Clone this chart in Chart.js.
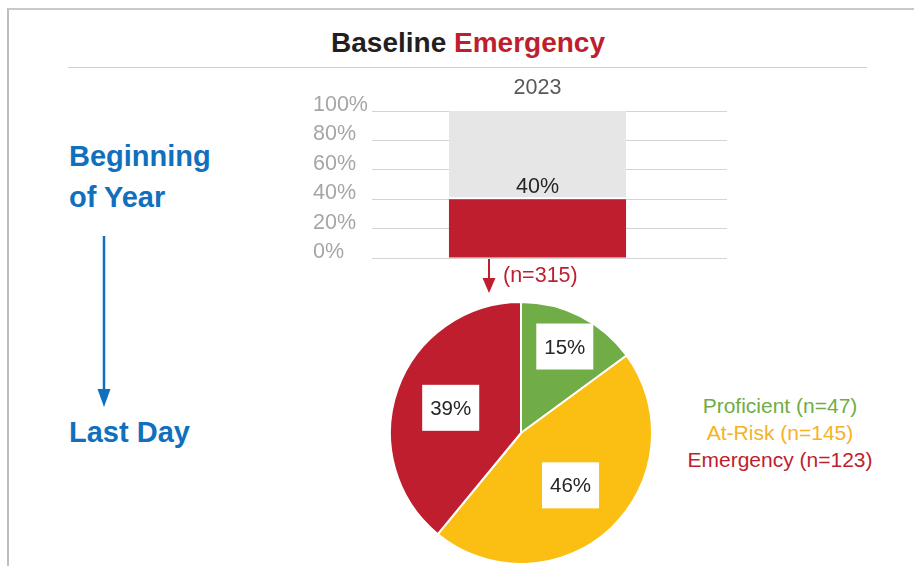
<!DOCTYPE html>
<html lang="en">
<head>
<meta charset="utf-8">
<title>Baseline Emergency</title>
<script src="https://cdn.jsdelivr.net/npm/chart.js@4.4.1/dist/chart.umd.min.js"></script>
<style>
    html, body { margin: 0; padding: 0; background: #fff; }
    body { position: relative; width: 914px; height: 566px; overflow: hidden;
           font-family: "Liberation Sans", Arial, sans-serif; }
    .abs { position: absolute; white-space: nowrap; }
    #frame { left: 7px; top: 8px; width: 940px; height: 600px;
             border-left: 2px solid #bdbdbd; border-top: 2px solid #c9c9c9; }
    #title { left: 0; top: 29px; width: 936px; text-align: center;
             font-size: 28px; line-height: 28px; font-weight: bold; color: #231f20; }
    #title span { color: #be1e2d; }
    #rule { left: 68px; top: 67px; width: 799px; height: 0; border-top: 1px solid #cfcfcf; }
    .side { left: 69px; font-size: 29px; line-height: 29px; font-weight: bold; color: #1170be; }
    #barBox { left: 313px; top: 75px; width: 414px; height: 190px; }
    #pieBox { left: 389px; top: 301px; width: 264px; height: 264px; }
    #nTotal { left: 503px; top: 265px; font-size: 21.5px; line-height: 21px; color: #be1e2d; }
    #legend { left: 680px; top: 392px; width: 200px; text-align: center;
              font-size: 21px; line-height: 27px; }
    svg.abs { left: 0; top: 0; }
</style>
</head>
<body>
<div id="frame" class="abs"></div>
<div id="title" class="abs">Baseline <span>Emergency</span></div>
<div id="rule" class="abs"></div>

<div class="abs side" style="top:142px">Beginning</div>
<div class="abs side" style="top:183px">of Year</div>
<div class="abs side" style="top:418px">Last Day</div>

<svg class="abs" width="914" height="566">
    <line x1="104" y1="236" x2="104" y2="392" stroke="#1170be" stroke-width="2.5"/>
    <polygon points="97.5,389 110.5,389 104,407" fill="#1170be"/>
    <line x1="489" y1="258" x2="489" y2="280" stroke="#be1e2d" stroke-width="2"/>
    <polygon points="482.5,278 495.5,278 489,293" fill="#be1e2d"/>
</svg>

<div id="barBox" class="abs"><canvas id="baselineBar"></canvas></div>
<div id="nTotal" class="abs"></div>
<div id="pieBox" class="abs"><canvas id="lastDayPie"></canvas></div>
<div id="legend" class="abs"></div>

<script>
// data
const barYears = ['2023'];
const emergencyShare = [40];          // % Emergency at beginning of year
const totalStudents = 315;
const yTickValues = [0, 20, 40, 60, 80, 100];

const pieCategories = ['Proficient', 'At-Risk', 'Emergency'];
const pieCounts = [47, 145, 123];

// styles
const pieColors = ['#70ad47', '#fbbf13', '#be1e2d'];
const legendColors = ['#6fad46', '#f5b324', '#be1e2d'];
const labelRadius = [0.74, 0.55, 0.57];

Chart.defaults.font.family = '"Liberation Sans", Arial, sans-serif';
Chart.defaults.animation = false;
Chart.defaults.events = [];

const noPadding = scale => {
    scale.paddingTop = 0;
    scale.paddingBottom = 0;
    scale.paddingLeft = 0;
    scale.paddingRight = 0;
};

// "40%" above the red bar
const barValueLabels = {
    id: 'barValueLabels',
    afterDatasetsDraw(chart) {
        const ctx = chart.ctx;
        const meta = chart.getDatasetMeta(0);
        ctx.save();
        ctx.font = '21.5px "Liberation Sans", Arial, sans-serif';
        ctx.fillStyle = '#262626';
        ctx.textAlign = 'center';
        ctx.textBaseline = 'alphabetic';
        meta.data.forEach((bar, i) => {
            ctx.fillText(emergencyShare[i] + '%', bar.x, bar.y - 6);
        });
        ctx.restore();
    }
};

// percent labels in white boxes on the pie
const pieBoxLabels = {
    id: 'pieBoxLabels',
    afterDatasetsDraw(chart) {
        const ctx = chart.ctx;
        const meta = chart.getDatasetMeta(0);
        const total = pieCounts.reduce((a, b) => a + b, 0);
        ctx.save();
        ctx.font = '20.5px "Liberation Sans", Arial, sans-serif';
        ctx.textAlign = 'center';
        ctx.textBaseline = 'alphabetic';
        meta.data.forEach((arc, i) => {
            const mid = (arc.startAngle + arc.endAngle) / 2;
            const r = arc.outerRadius * labelRadius[i];
            const x = arc.x + Math.cos(mid) * r;
            const y = arc.y + Math.sin(mid) * r;
            const text = Math.round(pieCounts[i] / total * 100) + '%';
            const w = ctx.measureText(text).width + 16;
            const h = 46;
            ctx.fillStyle = '#ffffff';
            ctx.fillRect(x - w / 2, y - h / 2, w, h);
            ctx.fillStyle = '#262626';
            ctx.fillText(text, x, y + 7);
        });
        ctx.restore();
    }
};

function renderBaselineBar() {
    const ctx = document.getElementById('baselineBar').getContext('2d');
    new Chart(ctx, {
        type: 'bar',
        data: {
            labels: barYears,
            datasets: [{
                data: emergencyShare,
                backgroundColor: '#be1e2d',
                borderWidth: 0
            }, {
                data: emergencyShare.map(v => 100 - v),
                backgroundColor: '#e6e6e6',
                borderColor: '#ffffff',
                borderWidth: { top: 0, left: 0, right: 0, bottom: 2 },
                borderSkipped: false
            }]
        },
        options: {
            responsive: true,
            maintainAspectRatio: false,
            layout: { padding: { top: 0, left: 0, right: 0, bottom: 7 } },
            datasets: { bar: { barPercentage: 0.535, categoryPercentage: 1 } },
            plugins: { legend: { display: false }, tooltip: { enabled: false } },
            scales: {
                x: {
                    position: 'top',
                    stacked: true,
                    grid: { display: false, drawTicks: false },
                    border: { display: false },
                    ticks: { color: '#595959', font: { size: 21.5 }, padding: 10 },
                    afterFit: scale => { scale.height = 36; noPadding(scale); }
                },
                y: {
                    stacked: true,
                    min: 0,
                    max: 100,
                    afterBuildTicks: scale => { scale.ticks = yTickValues.map(v => ({ value: v })); },
                    grid: { color: '#d4d4d4', drawTicks: false },
                    border: { display: false },
                    ticks: {
                        color: '#a6a6a6',
                        font: { size: 21.5 },
                        crossAlign: 'far',
                        labelOffset: -6,
                        callback: v => v + '%'
                    },
                    afterFit: scale => { scale.width = 59; noPadding(scale); }
                },
                y2: {
                    position: 'right',
                    min: 0,
                    max: 100,
                    afterBuildTicks: scale => { scale.ticks = yTickValues.map(v => ({ value: v })); },
                    grid: { drawOnChartArea: false, drawTicks: true, tickLength: 24, color: '#d4d4d4' },
                    border: { display: false },
                    ticks: { display: false },
                    afterFit: scale => { scale.width = 24; noPadding(scale); }
                }
            }
        },
        plugins: [barValueLabels]
    });
}

function renderLastDayPie() {
    const ctx = document.getElementById('lastDayPie').getContext('2d');
    new Chart(ctx, {
        type: 'pie',
        data: {
            labels: pieCategories,
            datasets: [{
                data: pieCounts,
                backgroundColor: pieColors,
                borderColor: '#ffffff',
                borderWidth: 2
            }]
        },
        options: {
            responsive: true,
            maintainAspectRatio: false,
            layout: { padding: 0 },
            plugins: { legend: { display: false }, tooltip: { enabled: false } }
        },
        plugins: [pieBoxLabels]
    });
}

function renderLegend() {
    const legend = document.getElementById('legend');
    pieCategories.forEach((name, i) => {
        const row = document.createElement('div');
        row.textContent = `${name} (n=${pieCounts[i]})`;
        row.style.color = legendColors[i];
        legend.appendChild(row);
    });
    document.getElementById('nTotal').textContent = `(n=${totalStudents})`;
}

renderBaselineBar();
renderLastDayPie();
renderLegend();
</script>
</body>
</html>
